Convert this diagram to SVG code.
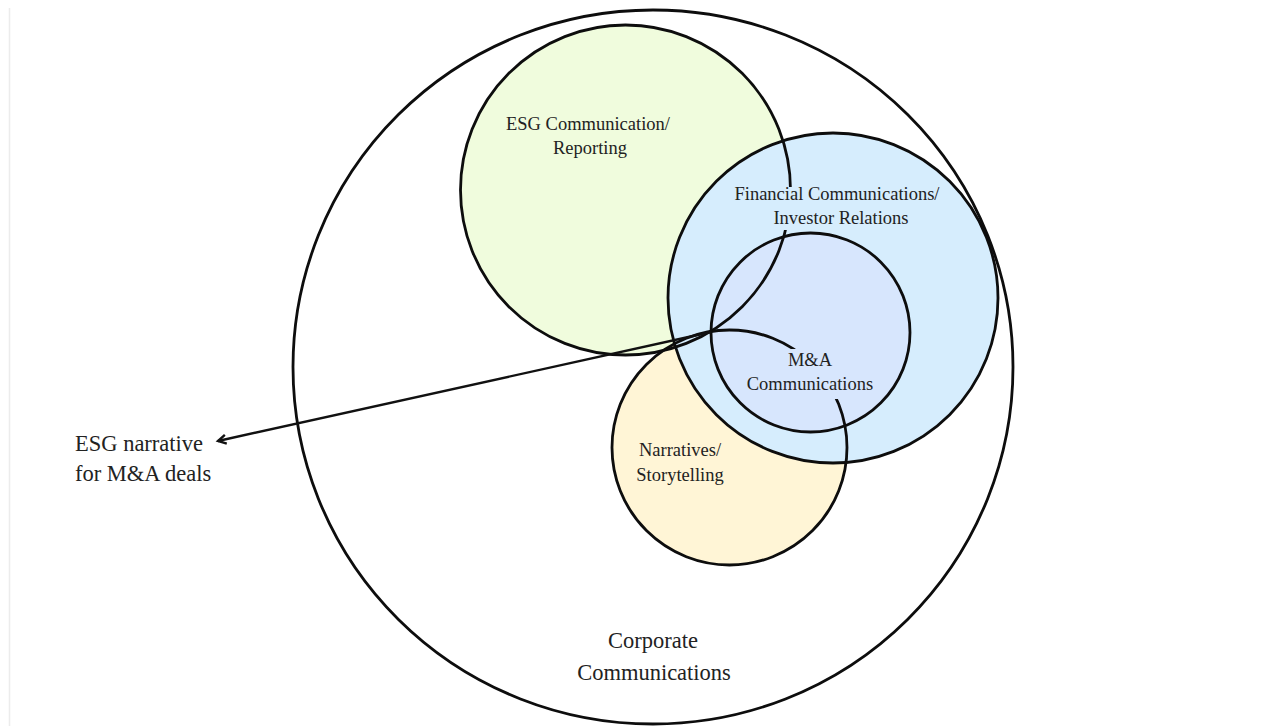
<svg xmlns="http://www.w3.org/2000/svg" width="1285" height="726" viewBox="0 0 1285 726">
  <defs>
    <marker id="arrow" markerWidth="14" markerHeight="12" refX="10" refY="6" orient="auto" markerUnits="userSpaceOnUse">
      <path d="M2,1.5 L10,6 L2,10.5" fill="none" stroke="#111" stroke-width="2.4" stroke-linejoin="miter"/>
    </marker>
  </defs>
  <style>
    .ring { fill: none; stroke: #0d0d0d; stroke-width: 2.8; }
    .lbl { font-family: "Liberation Serif", "DejaVu Serif", "Times New Roman", serif; font-size: 18.5px; fill: #222; text-anchor: middle; }
    .big { font-family: "Liberation Serif", "DejaVu Serif", "Times New Roman", serif; font-size: 22.5px; fill: #222; }
  </style>
  <rect width="1285" height="726" fill="#ffffff"/>
  <line x1="9.5" y1="8" x2="9.5" y2="726" stroke="#ececec" stroke-width="1.5"/>

  <!-- fills, back to front -->
  <g id="fills">
    <ellipse cx="653" cy="367" rx="360" ry="357" fill="#ffffff"/>
    <circle cx="625.5" cy="190" r="165" fill="#f0fcdd"/>
    <circle cx="729.5" cy="447.5" r="117.5" fill="#fff5d6"/>
    <circle cx="833" cy="298" r="165" fill="#d6edfd"/>
    <circle cx="810.5" cy="332.5" r="99.5" fill="#d7e6fd"/>
  </g>

  <!-- outlines -->
  <g id="corporate"><ellipse class="ring" cx="653" cy="367" rx="360" ry="357"/></g>
  <g id="esg"><circle class="ring" cx="625.5" cy="190" r="165"/></g>
  <g id="narratives"><circle class="ring" cx="729.5" cy="447.5" r="117.5"/></g>
  <g id="financial"><circle class="ring" cx="833" cy="298" r="165"/></g>
  <g id="mna"><circle class="ring" cx="810.5" cy="332.5" r="99.5"/></g>

  <g id="connectors">
    <line x1="711" y1="332" x2="218" y2="441" stroke="#111" stroke-width="2.4" marker-end="url(#arrow)"/>
  </g>

  <!-- labels -->
  <g id="esg-label">
    <text class="lbl" x="588" y="130">ESG Communication/</text>
    <text class="lbl" x="590" y="154">Reporting</text>
  </g>
  <g id="financial-label">
    <rect x="732" y="187" width="208" height="43" fill="#d6edfd"/>
    <text class="lbl" x="837" y="200">Financial Communications/</text>
    <text class="lbl" x="841" y="224">Investor Relations</text>
  </g>
  <g id="mna-label">
    <rect x="746" y="349" width="130" height="50" fill="#d7e6fd"/>
    <text class="lbl" x="810" y="366">M&amp;A</text>
    <text class="lbl" x="810" y="390">Communications</text>
  </g>
  <g id="narratives-label">
    <text class="lbl" x="680" y="456">Narratives/</text>
    <text class="lbl" x="680" y="481">Storytelling</text>
  </g>
  <g id="corporate-label">
    <text class="big" x="653" y="648" text-anchor="middle">Corporate</text>
    <text class="big" x="654" y="680" text-anchor="middle">Communications</text>
  </g>
  <g id="esg-narrative-label">
    <text class="big" x="75" y="451">ESG narrative</text>
    <text class="big" x="75" y="481">for M&amp;A deals</text>
  </g>
</svg>
